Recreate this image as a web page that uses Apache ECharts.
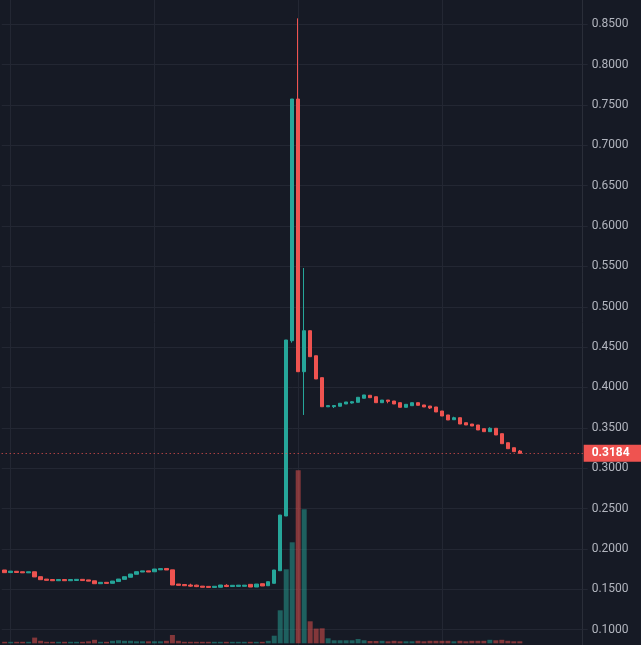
<!DOCTYPE html>
<html><head><meta charset="utf-8">
<script src="https://cdn.jsdelivr.net/npm/echarts@6/dist/echarts.min.js"></script>
<style>html,body{margin:0;padding:0;background:#161a25;}#c{width:641px;height:645px;}</style>
</head><body><div id="c"></div>
<script>
// x slots (87 candles + empty space on the right)
const categories = ['1','2','3','4','5','6','7','8','9','10','11','12','13','14','15','16','17','18','19','20',
'21','22','23','24','25','26','27','28','29','30','31','32','33','34','35','36','37','38','39','40',
'41','42','43','44','45','46','47','48','49','50','51','52','53','54','55','56','57','58','59','60',
'61','62','63','64','65','66','67','68','69','70','71','72','73','74','75','76','77','78','79','80',
'81','82','83','84','85','86','87','88','89','90','91','92','93','94','95','96','97'];

const opens = [
.1738,.1706,.1722,.1716,.1703,.1716,.1655,.1625,.1620,.1605,
.1620,.1605,.1608,.1622,.1615,.1604,.1568,.1585,.1573,.1595,
.1622,.1648,.1685,.1713,.1727,.1716,.1740,.1757,.1740,.1564,
.1558,.1552,.1550,.1538,.1535,.1522,.1524,.1548,.1533,.1535,
.1536,.1560,.1527,.1568,.1543,.1573,.1729,.2407,.4579,.7574,
.4195,.4703,.4393,.4121,.3760,.3762,.3767,.3795,.3807,.3816,
.3866,.3903,.3885,.3811,.3844,.3832,.3811,.3754,.3774,.3811,
.3783,.3770,.3758,.3708,.3659,.3600,.3625,.3563,.3547,.3535,
.3489,.3452,.3494,.3427,.3315,.3253,.3212];

const closes = [
.1705,.1724,.1707,.1703,.1716,.1652,.1618,.1610,.1605,.1620,
.1605,.1620,.1622,.1607,.1600,.1568,.1585,.1572,.1601,.1626,
.1655,.1688,.1717,.1727,.1713,.1750,.1755,.1738,.1552,.1548,
.1543,.1538,.1532,.1524,.1522,.1536,.1552,.1533,.1548,.1550,
.1550,.1527,.1564,.1540,.1593,.1738,.2419,.4588,.7574,.4195,
.4703,.4381,.4105,.3761,.3775,.3776,.3804,.3820,.3823,.3878,
.3907,.3873,.3811,.3844,.3828,.3795,.3754,.3791,.3811,.3779,
.3758,.3745,.3696,.3646,.3597,.3625,.3547,.3535,.3522,.3473,
.3452,.3494,.3411,.3303,.3241,.3204,.3184];

const lows = [
.1705,.1706,.1707,.1703,.1703,.1652,.1618,.1610,.1605,.1605,
.1605,.1605,.1608,.1607,.1600,.1568,.1568,.1572,.1573,.1595,
.1622,.1648,.1685,.1713,.1713,.1716,.1740,.1738,.1552,.1548,
.1543,.1530,.1526,.1524,.1522,.1522,.1524,.1526,.1533,.1535,
.1536,.1527,.1527,.1540,.1543,.1573,.1729,.2407,.4555,.4195,
.3659,.4381,.4105,.3761,.3760,.3745,.3767,.3795,.3800,.3816,
.3866,.3873,.3811,.3811,.3804,.3795,.3754,.3754,.3774,.3779,
.3758,.3733,.3696,.3646,.3597,.3600,.3547,.3535,.3522,.3473,
.3452,.3452,.3411,.3303,.3241,.3204,.3184];

const highs = [
.1738,.1724,.1722,.1716,.1716,.1716,.1655,.1625,.1620,.1620,
.1620,.1620,.1622,.1622,.1615,.1604,.1585,.1585,.1601,.1626,
.1655,.1688,.1717,.1727,.1727,.1750,.1755,.1757,.1740,.1564,
.1558,.1568,.1556,.1538,.1535,.1536,.1552,.1562,.1548,.1550,
.1550,.1560,.1564,.1568,.1593,.1738,.2419,.4588,.7574,.8574,
.5480,.4703,.4393,.4121,.3775,.3776,.3804,.3820,.3830,.3878,
.3907,.3903,.3885,.3844,.3844,.3832,.3811,.3791,.3811,.3811,
.3783,.3770,.3758,.3708,.3659,.3637,.3625,.3563,.3547,.3535,
.3489,.3506,.3494,.3427,.3315,.3253,.3225];

const volumes = [
1.5,1.5,1.5,1.5,1.5,5.7,2.5,1.5,1.5,1.5,
1.5,1.5,1.5,1.5,2,3.5,1.5,1.5,2.5,3,
2.5,2.5,2,2,2,2,2,2.5,8.3,2.5,
1.5,1.5,1.5,1.5,1.5,1.5,1.5,1.5,1.5,1.5,
1.5,1.5,1.5,1.5,2.5,7.6,33,74,101,173,
134,22,14.7,15,5,3,3,3,3,4.3,
3,2.3,2.3,2.5,2,2.5,2,2,2,2.5,
2,2.5,2.5,2.5,2.5,2,2.5,2,2.5,2.5,
2.5,3.5,3,3.5,2.5,2,2];

const timeGridCats = ['2','26','50','74'];

const UP = '#26a69a', DOWN = '#ef5350', GRID = '#232733', BG = '#161a25';
const lastPrice = closes[closes.length - 1];

const chart = echarts.init(document.getElementById('c'), null, {renderer: 'canvas'});
const hiddenX = {axisLine:{show:false}, axisTick:{show:false}, axisLabel:{show:false}, splitLine:{show:false}};
chart.setOption({
  backgroundColor: BG,
  animation: false,
  grid: [
    {left: 1.7, width: 581, top: -16.05, height: 685.95, containLabel:false, outerBoundsMode:'none'},
    {left: 1.7, width: 581, bottom: 1.7, height: 200, containLabel:false, outerBoundsMode:'none'}
  ],
  xAxis: [
    Object.assign({type:'category', gridIndex:0, data:categories, boundaryGap:true}, hiddenX),
    Object.assign({type:'category', gridIndex:1, data:categories, boundaryGap:true}, hiddenX)
  ],
  yAxis: [
    {type:'value', gridIndex:0, position:'right', min:0.05, max:0.9, interval:0.05,
     axisLine:{show:true, lineStyle:{color:'#2a2e39'}},
     axisTick:{show:true, length:5, lineStyle:{color:GRID}},
     axisLabel:{color:'#b2b5be', fontSize:12, fontFamily:'Roboto', margin:9, formatter: v => v.toFixed(4)},
     splitLine:{show:true, lineStyle:{color:GRID, width:1}}},
    {type:'value', gridIndex:1, min:0, max:200, show:false, splitLine:{show:false}}
  ],
  series: [
    {type:'line', xAxisIndex:0, yAxisIndex:0, data:[], silent:true, z:0,
     markLine:{z:0, silent:true, symbol:['none','none'], label:{show:false},
       lineStyle:{color:GRID, type:'solid', width:1},
       data: timeGridCats.map(c => ({xAxis: c}))}},
    {type:'bar', xAxisIndex:1, yAxisIndex:1, barWidth:5, z:1, silent:true,
     data: volumes.map((v,i) => ({value:v, itemStyle:{color: closes[i] >= opens[i] ? 'rgba(38,166,154,0.5)' : 'rgba(239,83,80,0.5)'}}))},
    {type:'candlestick', xAxisIndex:0, yAxisIndex:0, barWidth:4, z:3, silent:true,
     emphasis:{disabled:true},
     data: opens.map((o,i) => [o, closes[i], lows[i], highs[i]]),
     itemStyle:{color:UP, color0:DOWN, borderColor:UP, borderColor0:DOWN, borderWidth:1}},
    {type:'line', xAxisIndex:0, yAxisIndex:0, data:[], silent:true, z:5,
     markLine:{z:6, silent:true, symbol:['none','none'], precision:4,
       lineStyle:{color:DOWN, type:[1,3], width:1},
       label:{show:true, position:'end', distance:1, formatter: () => lastPrice.toFixed(4),
         backgroundColor:DOWN, color:'#ffffff', fontWeight:'bold', fontSize:12, fontFamily:'Roboto',
         padding:[3,13,2,8]},
       data:[{yAxis: lastPrice}]}}
  ]
});
</script></body></html>
